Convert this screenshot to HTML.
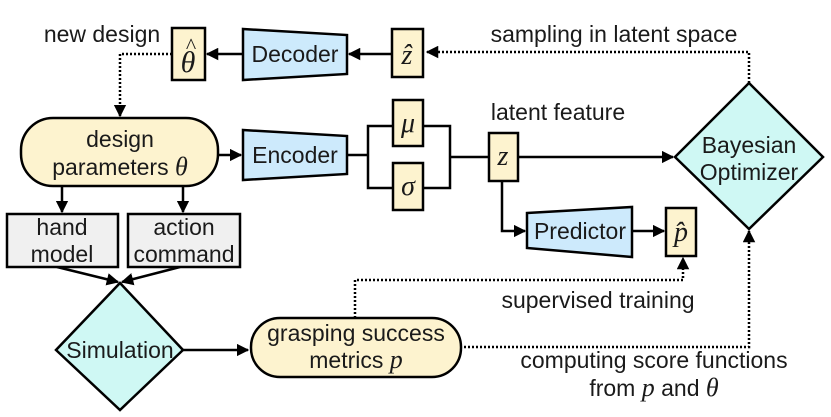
<!DOCTYPE html>
<html><head><meta charset="utf-8"><style>html,body{margin:0;padding:0;background:#fff}svg{display:block}</style></head><body>
<svg width="831" height="417" viewBox="0 0 831 417" xmlns="http://www.w3.org/2000/svg" font-family="Liberation Sans, sans-serif" font-size="23" fill="#1a1a1a">
<defs>
<marker id="a" viewBox="0 0 10 10" refX="9" refY="5" markerWidth="5" markerHeight="5" orient="auto"><path d="M0,0L10,5L0,10z" fill="#000"/></marker>
</defs>
<g stroke="#000" stroke-width="2.5" fill="none">
<line x1="243" y1="54" x2="207" y2="54" marker-end="url(#a)"/>
<line x1="392" y1="54" x2="349" y2="54" marker-end="url(#a)"/>
<line x1="218" y1="155" x2="241" y2="155" marker-end="url(#a)"/>
<polyline points="347,155 368,155"/>
<polyline points="393,126 368,126 368,188 393,188"/>
<polyline points="423,126 450,126 450,188 423,188"/>
<line x1="450" y1="157" x2="489" y2="157"/>
<line x1="518" y1="157" x2="673" y2="157" marker-end="url(#a)"/>
<polyline points="502,181 502,231 525,231" marker-end="url(#a)"/>
<line x1="632" y1="231" x2="664" y2="231" marker-end="url(#a)"/>
<line x1="62" y1="186" x2="62" y2="212" marker-end="url(#a)"/>
<line x1="183" y1="186" x2="183" y2="212" marker-end="url(#a)"/>
<line x1="57" y1="267" x2="118" y2="282" marker-end="url(#a)"/>
<line x1="180" y1="267" x2="122" y2="282" marker-end="url(#a)"/>
<line x1="182" y1="350" x2="248" y2="350" marker-end="url(#a)"/>
</g>
<g stroke="#000" stroke-width="2.5" fill="none" stroke-dasharray="2,2">
<polyline points="172,54 120,54 120,116" marker-end="url(#a)"/>
<polyline points="749,83 749,52 427,52" marker-end="url(#a)"/>
<polyline points="460,347 749,347 749,231" marker-end="url(#a)"/>
<polyline points="355,318 355,280 683,280 683,258" marker-end="url(#a)"/>
</g>
<g stroke="#000" stroke-width="2.5">
<rect x="172" y="28" width="33" height="52" fill="#fdf3cf"/>
<rect x="392" y="29" width="31" height="48" fill="#fdf3cf"/>
<polygon points="243,29 347,35 347,74 243,80" fill="#cdeafc"/>
<rect x="21" y="118" width="197" height="68" rx="32" fill="#fdf3cf"/>
<polygon points="243,130 347,136 347,174 243,180" fill="#cdeafc"/>
<rect x="393" y="100" width="30" height="46" fill="#fdf3cf"/>
<rect x="393" y="163" width="30" height="47" fill="#fdf3cf"/>
<rect x="489" y="133" width="29" height="48" fill="#fdf3cf"/>
<polygon points="749,83 823,157 749,229 675,157" fill="#cff8f4"/>
<polygon points="527,213 632,207 632,257 527,248" fill="#cdeafc"/>
<rect x="666" y="208" width="30" height="48" fill="#fdf3cf"/>
<rect x="7" y="214" width="111" height="53" fill="#f0f0f0"/>
<rect x="128" y="214" width="112" height="53" fill="#f0f0f0"/>
<polygon points="120,283 183,350 120,410 56,350" fill="#cff8f4"/>
<rect x="251" y="318" width="210" height="59" rx="29" fill="#fdf3cf"/>
</g>
<g text-anchor="middle">
<text x="102" y="42">new design</text>
<text x="188" y="72" font-family="Liberation Serif, serif" font-style="italic" font-size="30">θ</text>
<text x="191" y="53" font-family="Liberation Serif, serif" font-size="22">^</text>
<text x="295" y="62">Decoder</text>
<text x="407" y="64" font-family="Liberation Serif, serif" font-style="italic" font-size="28">ẑ</text>
<text x="614" y="42">sampling in latent space</text>
<text x="120" y="147">design</text>
<text x="120" y="175">parameters <tspan font-family="Liberation Serif, serif" font-style="italic" font-size="26">θ</tspan></text>
<text x="295" y="163">Encoder</text>
<text x="408" y="132" font-family="Liberation Serif, serif" font-style="italic" font-size="28">μ</text>
<text x="408" y="195" font-family="Liberation Serif, serif" font-style="italic" font-size="28">σ</text>
<text x="558" y="120">latent feature</text>
<text x="503" y="165" font-family="Liberation Serif, serif" font-style="italic" font-size="28">z</text>
<text x="749" y="153">Bayesian</text>
<text x="749" y="180">Optimizer</text>
<text x="580" y="239">Predictor</text>
<text x="681" y="241" font-family="Liberation Serif, serif" font-style="italic" font-size="28">p̂</text>
<text x="62" y="235">hand</text>
<text x="62" y="262">model</text>
<text x="184" y="235">action</text>
<text x="184" y="262">command</text>
<text x="120" y="358">Simulation</text>
<text x="356" y="341">grasping success</text>
<text x="356" y="368">metrics <tspan font-family="Liberation Serif, serif" font-style="italic" font-size="26">p</tspan></text>
<text x="598" y="308">supervised training</text>
<text x="654" y="368">computing score functions</text>
<text x="654" y="396">from <tspan font-family="Liberation Serif, serif" font-style="italic" font-size="26">p</tspan> and <tspan font-family="Liberation Serif, serif" font-style="italic" font-size="26">θ</tspan></text>
</g>
</svg>
</body></html>
